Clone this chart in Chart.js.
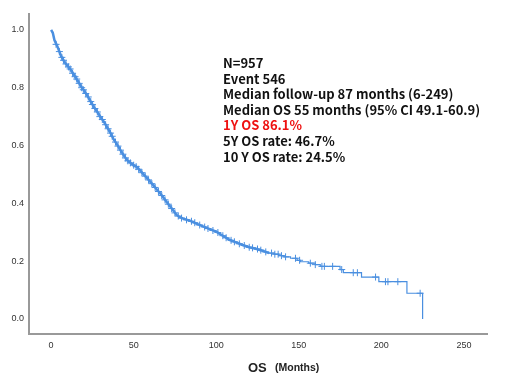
<!DOCTYPE html>
<html lang="en">
<head>
<meta charset="UTF-8">
<title>OS Kaplan-Meier</title>
<script src="https://cdn.jsdelivr.net/npm/chart.js"></script>
<style>
    body { margin: 0; background: #fff; }
    canvas { display: block; }
</style>
</head>
<body>
<canvas id="kmChart" width="520" height="385"></canvas>
<script>
    // early, dense part of the survival curve (months, survival)
    const curveMonths = [0, 1, 2, 4, 6, 8, 10, 12, 14, 16, 18, 20, 22, 24, 26, 28, 30, 32, 34, 36, 38, 40,
        42, 44, 46, 48, 50, 52, 54, 56, 58, 60, 62, 64, 66, 68, 70, 72, 74, 76, 78, 80, 84, 88, 92, 96,
        100, 104, 108, 112, 116, 120, 124, 128, 132];
    const curveSurv = [1.0, 0.99, 0.965, 0.94, 0.91, 0.89, 0.875, 0.861, 0.843, 0.825, 0.806, 0.79, 0.772,
        0.752, 0.733, 0.716, 0.698, 0.682, 0.663, 0.643, 0.62, 0.603, 0.584, 0.566, 0.55, 0.54, 0.532, 0.525,
        0.513, 0.5, 0.488, 0.475, 0.462, 0.448, 0.435, 0.42, 0.405, 0.39, 0.375, 0.36, 0.352, 0.347, 0.34,
        0.33, 0.32, 0.311, 0.302, 0.288, 0.274, 0.265, 0.256, 0.248, 0.243, 0.236, 0.228];

    // sparse tail, drawn as steps
    const tailMonths = [132, 135, 138, 141, 145, 149, 151, 156, 160, 163, 175, 177, 188, 198.5, 215.5, 225];
    const tailSurv = [0.228, 0.224, 0.219, 0.215, 0.21, 0.203, 0.198, 0.193, 0.188, 0.182, 0.171, 0.16,
        0.145, 0.129, 0.089, 0.0];

    // censored observations (+ marks)
    const censorMonths = [3, 5, 6.5, 7.5, 9, 10.5, 11.5, 13, 14.5, 15.5, 17, 18.5, 19.5, 21, 22.5, 24, 25,
        26.5, 28, 29.5, 31, 33, 34.5, 36, 37, 39, 40.5, 42, 43.5, 45, 46.5, 48, 50, 51.5, 53, 55, 57, 59, 61,
        63, 65, 67, 69, 71, 73, 75, 77, 79, 82, 85, 87, 90, 93, 95, 98, 101, 104, 106, 109, 111, 114, 117,
        120, 122, 125, 127, 130,
        133.5, 135.5, 137.5, 139.5, 142, 148, 150.5, 157, 160, 164, 165.5, 170.5, 176, 183, 185.5, 196.5,
        202.5, 204, 210, 223.5];
    const censorSurv = [0.95, 0.925, 0.905, 0.895, 0.882, 0.872, 0.865, 0.85, 0.838, 0.83, 0.815, 0.8,
        0.793, 0.78, 0.768, 0.752, 0.742, 0.728, 0.716, 0.7, 0.69, 0.672, 0.658, 0.643, 0.632, 0.612, 0.598,
        0.584, 0.57, 0.557, 0.547, 0.54, 0.532, 0.527, 0.518, 0.506, 0.494, 0.481, 0.468, 0.455, 0.441,
        0.427, 0.412, 0.397, 0.382, 0.367, 0.356, 0.349, 0.343, 0.338, 0.333, 0.325, 0.318, 0.313, 0.306,
        0.299, 0.288, 0.281, 0.272, 0.267, 0.26, 0.254, 0.248, 0.246, 0.242, 0.238, 0.232,
        0.228, 0.224, 0.224, 0.219, 0.215, 0.21, 0.203, 0.193, 0.188, 0.182, 0.182, 0.182, 0.171, 0.16,
        0.16, 0.145, 0.129, 0.129, 0.129, 0.089];

    const xTicks = [0, 50, 100, 150, 200, 250];
    const yTicks = [0, 0.2, 0.4, 0.6, 0.8, 1.0];

    const noteLines = [
        'N=957',
        'Event 546',
        'Median follow-up 87 months (6-249)',
        'Median OS 55 months (95% CI 49.1-60.9)',
        '1Y OS 86.1%',
        '5Y OS rate: 46.7%',
        '10 Y OS rate: 24.5%'
    ];
    const noteColors = ['#111', '#111', '#111', '#111', '#ee1111', '#111', '#111'];

    const blue = '#4a8fe0';
    const pairs = (xs, ys) => xs.map((x, i) => ({ x: x, y: ys[i] }));

    // summary text + axis title
    const textPlugin = {
        id: 'notes',
        afterDraw(chart) {
            const ctx = chart.ctx;
            ctx.save();
            ctx.textBaseline = 'middle';
            ctx.textAlign = 'left';
            ctx.font = 'bold 13px "Noto Sans CJK KR", "Noto Sans", sans-serif';
            noteLines.forEach((t, i) => {
                ctx.fillStyle = noteColors[i];
                ctx.fillText(t, 223, 63 + i * 15.6);
            });
            ctx.fillStyle = '#222';
            ctx.font = 'bold 13px "Liberation Sans", Arial, sans-serif';
            ctx.fillText('OS', 248, 368);
            ctx.font = 'bold 10.5px "Liberation Sans", Arial, sans-serif';
            ctx.fillText('(Months)', 275, 368);
            ctx.restore();
        }
    };

    new Chart(document.getElementById('kmChart'), {
        type: 'scatter',
        data: {
            datasets: [
                {
                    type: 'line',
                    data: pairs(curveMonths, curveSurv),
                    borderColor: blue,
                    borderWidth: 2.5,
                    pointRadius: 0,
                    tension: 0
                },
                {
                    type: 'line',
                    data: pairs(tailMonths, tailSurv),
                    borderColor: blue,
                    borderWidth: 1.2,
                    pointRadius: 0,
                    stepped: 'before'
                },
                {
                    data: pairs(censorMonths, censorSurv),
                    pointStyle: 'cross',
                    pointRadius: 3.5,
                    borderColor: blue,
                    backgroundColor: blue,
                    borderWidth: 1
                }
            ]
        },
        options: {
            responsive: false,
            animation: false,
            layout: { padding: { top: 14, right: 33, left: 0, bottom: 0 } },
            plugins: {
                legend: { display: false },
                tooltip: { enabled: false }
            },
            scales: {
                x: {
                    type: 'linear',
                    min: -13.4,
                    max: 264,
                    afterBuildTicks: s => { s.ticks = xTicks.map(v => ({ value: v })); },
                    afterFit: s => { s.height = 51; },
                    grid: { display: false, drawTicks: false },
                    border: { color: '#999', width: 2 },
                    ticks: { padding: 6, color: '#333', font: { family: 'Liberation Sans', size: 9 } }
                },
                y: {
                    min: -0.052,
                    max: 1.055,
                    afterBuildTicks: s => { s.ticks = yTicks.map(v => ({ value: v })); },
                    afterFit: s => { s.width = 29; },
                    grid: { display: false, drawTicks: false },
                    border: { color: '#999', width: 2 },
                    ticks: {
                        padding: 5,
                        color: '#333',
                        font: { family: 'Liberation Sans', size: 9 },
                        callback: v => v.toFixed(1)
                    }
                }
            }
        },
        plugins: [textPlugin]
    });
</script>
</body>
</html>
